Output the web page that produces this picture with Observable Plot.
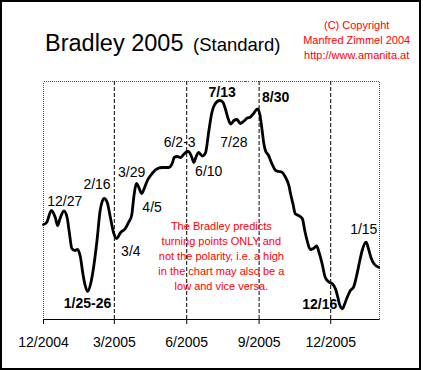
<!DOCTYPE html>
<html><head><meta charset="utf-8">
<script src="https://cdn.jsdelivr.net/npm/d3@7"></script>
<script src="https://cdn.jsdelivr.net/npm/@observablehq/plot@0.6"></script>
<style>
body{margin:0;background:#fff;}
#wrap{position:relative;width:423px;height:370px;overflow:hidden;font-family:"Liberation Sans",Arial,sans-serif;background:#fff;}
#chart{position:absolute;left:0;top:0;}
#frame{position:absolute;left:0;top:0;width:417px;height:366px;border:2px solid #000;pointer-events:none;}
#title{position:absolute;left:45px;top:31.8px;white-space:nowrap;line-height:1;font-size:23.5px;color:#000;}
#title span{font-size:18.5px;margin-left:3px;}
#copy{position:absolute;left:286.7px;top:17.9px;width:140px;text-align:center;font-size:11px;line-height:15px;color:#ff0000;white-space:nowrap;}
</style></head>
<body>
<div id="wrap">
  <div id="chart"></div>
  <div id="title">Bradley 2005 <span>(Standard)</span></div>
  <div id="copy">(C) Copyright<br>Manfred Zimmel 2004<br>http://www.amanita.at</div>
  <div id="frame"></div>
</div>
<script>
// Bradley siderograph 2005 (arbitrary units)
const dates = [
  "2004-12-01","2004-12-05","2004-12-11","2004-12-16","2004-12-19","2004-12-22","2004-12-27","2004-12-31",
  "2005-01-03","2005-01-06","2005-01-10","2005-01-13","2005-01-17","2005-01-20","2005-01-23","2005-01-26","2005-01-30",
  "2005-02-03","2005-02-07","2005-02-11","2005-02-16","2005-02-20","2005-02-24","2005-02-28",
  "2005-03-04","2005-03-09","2005-03-15","2005-03-19","2005-03-23","2005-03-26","2005-03-29","2005-03-31",
  "2005-04-05","2005-04-08","2005-04-12","2005-04-18","2005-04-25",
  "2005-05-01","2005-05-05","2005-05-09","2005-05-14","2005-05-16","2005-05-20","2005-05-24","2005-05-28",
  "2005-06-02","2005-06-03","2005-06-06","2005-06-08","2005-06-10","2005-06-13","2005-06-16","2005-06-21","2005-06-25","2005-06-29",
  "2005-07-03","2005-07-07","2005-07-13","2005-07-17","2005-07-20","2005-07-24","2005-07-27","2005-07-31",
  "2005-08-04","2005-08-08","2005-08-12","2005-08-17","2005-08-21","2005-08-25","2005-08-30",
  "2005-09-02","2005-09-05","2005-09-07","2005-09-09","2005-09-13","2005-09-18","2005-09-22","2005-09-26","2005-09-30",
  "2005-10-04","2005-10-09","2005-10-11","2005-10-14","2005-10-17","2005-10-21","2005-10-26","2005-10-29",
  "2005-11-01","2005-11-05","2005-11-09","2005-11-13","2005-11-16","2005-11-20","2005-11-24","2005-11-29",
  "2005-12-03","2005-12-07","2005-12-10","2005-12-12","2005-12-16","2005-12-18","2005-12-22","2005-12-26","2005-12-30",
  "2006-01-03","2006-01-07","2006-01-10","2006-01-15","2006-01-18","2006-01-21","2006-01-25","2006-01-31"
];
const values = [
  95,97,109,102,94,101,108.5,102,
  86,71,69,70,62,46,34,28,36,
  54,79,109,121,117,102,87,
  81,87,91,97,104,124,136,134,
  126,131,139,146,151,
  152,152,152,157,162,163,162,165,
  168,168,165,161,157,163,167,163.5,167,188,
  207,215.5,219,217.3,211,200,195.5,199,
  200,196,198,201.5,202.5,206,210.7,
  205,188,176,169,164,154.5,149,148,147.3,
  143,133.5,125.7,115.7,105.7,104,100.7,89,
  79,70,71,73.5,67.5,56,42.3,37.3,
  35.7,30.7,22.3,15.7,10.7,14,22.3,29,32.3,
  44,59,69,77.3,70.7,62.3,55.7,52.3
];

// turning-point labels (anchor = text centre / baseline, in data units)
const labelTexts  = ["12/27","2/16","3/29","4/5","3/4","1/25-26","6/2-3","6/10","7/13","7/28","8/30","12/16","1/15"];
const labelDates  = ["2004-12-28","2005-02-07","2005-03-23","2005-04-18","2005-03-22","2005-01-26","2005-05-23","2005-06-29","2005-07-16","2005-07-31","2005-09-22","2005-11-17","2006-01-12"];
const labelValues = [114,130.7,143,108,64,11.3,173,144,222.3,173,217.3,10.7,85.7];
const labelBold   = [false,false,false,false,false,true,false,false,true,false,true,true,false];

const tickDates  = ["2004-12-01","2005-03-01","2005-06-01","2005-09-01","2005-12-01"];
const tickLabels = ["12/2004","3/2005","6/2005","9/2005","12/2005"];
const gridDates  = ["2005-03-01","2005-06-01","2005-09-01","2005-12-01"];

const noteText = "The Bradley predicts\nturning points ONLY and\nnot the polarity, i.e. a high\nin the chart may also be a\nlow and vice versa.";
const noteDate = "2005-07-15";
const noteValue = 30;

const parse = d3.utcParse("%Y-%m-%d");
const series = dates.map((d, i) => ({date: parse(d), value: values[i]}));
const labels = labelTexts.map((t, i) => ({text: t, date: parse(labelDates[i]), value: labelValues[i], bold: labelBold[i]}));
const ticks = tickDates.map(parse);
const grid = gridDates.map(parse);
const font = "'Liberation Sans', Arial, sans-serif";

const chart = Plot.plot({
  width: 423, height: 370,
  marginLeft: 43, marginRight: 44, marginTop: 81, marginBottom: 51,
  x: {type: "utc", domain: [parse("2004-12-01"), parse("2006-02-01")]},
  y: {domain: [0, 238], axis: null},
  style: {fontFamily: font, background: "transparent", color: "#000", overflow: "visible"},
  marks: [
    Plot.frame({stroke: "#555", strokeDasharray: "1,1", shapeRendering: "crispEdges"}),
    Plot.ruleX(grid, {stroke: "#000", strokeDasharray: "4,2", strokeWidth: 1}),
    Plot.ruleY([0], {stroke: "#000", strokeWidth: 1}),
    Plot.axisX(ticks, {
      tickSize: 5, tickPadding: 13, fontSize: 14, label: null, stroke: "#000",
      tickFormat: d => tickLabels[ticks.findIndex(t => +t === +d)]
    }),
    Plot.text([noteText], {
      x: () => parse(noteDate), y: () => noteValue, text: d => d,
      fontSize: 11, lineHeight: 15 / 11, lineAnchor: "bottom", textAnchor: "middle", fill: "#ff0000"
    }),
    Plot.line(series, {x: "date", y: "value", stroke: "#000", strokeWidth: 2.8, curve: "monotone-x"}),
    Plot.text(labels.filter(d => !d.bold), {
      x: "date", y: "value", text: "text", fontSize: 14, lineAnchor: "bottom", textAnchor: "middle", fill: "#000"
    }),
    Plot.text(labels.filter(d => d.bold), {
      x: "date", y: "value", text: "text", fontSize: 14, fontWeight: "bold", lineAnchor: "bottom", textAnchor: "middle", fill: "#000"
    })
  ]
});
document.getElementById("chart").appendChild(chart);
</script>
</body></html>
